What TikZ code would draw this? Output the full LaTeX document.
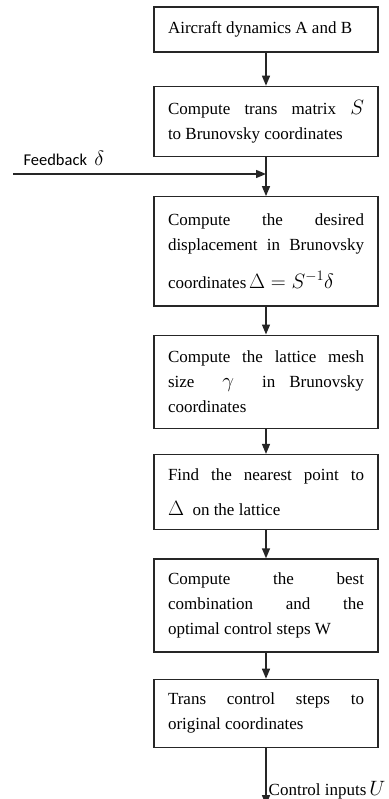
\documentclass[tikz,border=0pt]{standalone}
\usepackage{fontspec}
\setmainfont{Liberation Serif}
\newfontfamily\fbfont{Carlito}
\usepackage{xcolor}
\usepackage{tikz}
\usetikzlibrary{arrows.meta,positioning,calc}
\definecolor{ink}{HTML}{262626}
% larger math symbols, as in the flow chart
\newcommand{\symb}[1]{{\fontsize{21}{25}\selectfont$#1$}}

\begin{document}
\begin{tikzpicture}[
  x=1pt, y=1pt,
  font=\fontsize{17}{25}\selectfont,
  node distance=28pt,
  stepbox/.style={draw=ink, line width=1.4pt, inner xsep=14pt, text width=196pt, align=justify},
  arrow/.style={-{Triangle[length=10pt,width=8pt]}, line width=1.4pt, draw=ink}
]
  \useasboundingbox (0,0) rectangle (388,-799);

  \node[stepbox, minimum height=45pt] (dyn) at (266,-29.5) {Aircraft dynamics A and B};
  \node[stepbox, minimum height=70pt, below=33pt of dyn] (trans) {Compute trans matrix \symb{S}\linebreak to Brunovsky coordinates};
  \node[stepbox, minimum height=109pt, below=39pt of trans] (disp) {Compute the desired\linebreak displacement in Brunovsky\linebreak \rule{0pt}{33pt}coordinates\,\symb{\Delta = S^{-1}\delta}};
  \node[stepbox, minimum height=93pt, below=28pt of disp] (mesh) {Compute the lattice mesh\linebreak size \ \symb{\gamma} \ in Brunovsky\linebreak coordinates};
  \node[stepbox, minimum height=75pt, below=25pt of mesh] (nearest) {Find the nearest point to\linebreak \rule{0pt}{31pt}\symb{\Delta} \ on the lattice};
  \node[stepbox, minimum height=93pt, below=28pt of nearest] (combo) {Compute the best\linebreak combination and the\linebreak optimal control steps W};
  \node[stepbox, minimum height=68pt, below=26pt of combo] (ctrl) {Trans control steps to\linebreak original coordinates};
  \coordinate[below=57pt of ctrl] (out);

  % feedback enters between step 2 and step 3
  \coordinate (fb) at (13,-174);
  \node[font=\fbfont\fontsize{16.5}{20}\selectfont, anchor=base west] (fblabel) at (20,-166) {Feedback \ \symb{\delta}};

  \draw[arrow] (dyn) -- (trans);
  \draw[arrow] (trans) -- (disp);
  \draw[arrow] (fb) -- (fb -| trans.south);
  \draw[arrow] (disp) -- (mesh);
  \draw[arrow] (mesh) -- (nearest);
  \draw[arrow] (nearest) -- (combo);
  \draw[arrow] (combo) -- (ctrl);
  \draw[arrow] (ctrl) -- node[anchor=west, pos=0.74, inner sep=2pt] (uout) {Control inputs\,\symb{U}} (out);
\end{tikzpicture}
\end{document}
